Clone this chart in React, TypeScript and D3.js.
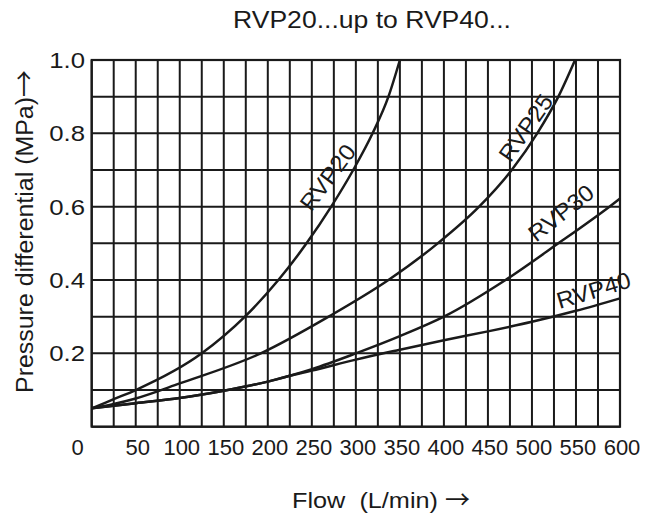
import * as d3 from 'd3'

// chart values
const flowTicks = [0, 50, 100, 150, 200, 250, 300, 350, 400, 450, 500, 550, 600]
const pressureTicks = [0.2, 0.4, 0.6, 0.8, 1.0]
const flowGrid = d3.range(0, 601, 25)
const pressureGrid = d3.range(0, 1.01, 0.1)

const rvp20Flow = [0, 25, 50, 125, 174, 212, 244, 272, 297, 319, 337, 350]
const rvp20Pressure = [0.05, 0.075, 0.1, 0.2, 0.3, 0.4, 0.5, 0.6, 0.7, 0.8, 0.9, 1.0]

const rvp25Flow = [0, 25, 50, 100, 192, 269, 337, 393, 440, 477, 506, 530, 549]
const rvp25Pressure = [0.05, 0.062, 0.077, 0.118, 0.2, 0.3, 0.4, 0.5, 0.6, 0.7, 0.8, 0.9, 1.0]

const rvp30Flow = [0, 50, 100, 150, 200, 225, 250, 300, 350, 400, 470, 530, 588, 600]
const rvp30Pressure = [0.05, 0.064, 0.078, 0.098, 0.123, 0.139, 0.157, 0.2, 0.247, 0.3, 0.4, 0.5, 0.6, 0.622]

const rvp40Flow = [0, 50, 100, 150, 200, 225, 250, 300, 350, 400, 450, 500, 550, 600]
const rvp40Pressure = [0.05, 0.064, 0.078, 0.098, 0.123, 0.139, 0.153, 0.183, 0.21, 0.236, 0.26, 0.286, 0.316, 0.35]

const seriesNames = ['RVP20', 'RVP25', 'RVP30', 'RVP40']
// label anchor (flow, pressure) and rotation for each curve name
const labelFlow = [268, 493, 533, 570]
const labelPressure = [0.68, 0.815, 0.583, 0.372]
const labelAngle = [-53, -55, -38, -17]

const width = 653
const height = 520
const margin = { top: 60, right: 33, bottom: 93.3, left: 91.7 }
const font = '"Liberation Sans", Arial, sans-serif'
const arrowFont = '"Noto Sans CJK SC", "DejaVu Sans", sans-serif'
const ink = '#1a1a1a'

export default function App() {
  const x = d3.scaleLinear().domain([0, 600]).range([margin.left, width - margin.right])
  const y = d3.scaleLinear().domain([0, 1]).range([height - margin.bottom, margin.top])

  const line = d3.line<[number, number]>()
    .x(d => x(d[0]))
    .y(d => y(d[1]))
    .curve(d3.curveMonotoneX)

  const series = [
    d3.zip(rvp20Flow, rvp20Pressure),
    d3.zip(rvp25Flow, rvp25Pressure),
    d3.zip(rvp30Flow, rvp30Pressure),
    d3.zip(rvp40Flow, rvp40Pressure),
  ] as [number, number][][]

  const [x0, x1] = x.range()
  const [y0, y1] = y.range()

  return (
    <svg width={width} height={height} style={{ position: 'absolute', left: 0, top: 0, background: '#fff' }}
      fontFamily={font}>
      <text x={372} y={28} fontSize={24} textAnchor="middle" textLength={278} lengthAdjust="spacingAndGlyphs" fill={ink}>
        RVP20...up to RVP40...
      </text>

      {/* grid */}
      <g stroke={ink} strokeWidth={2}>
        {flowGrid.map(f => (
          <line key={'v' + f} x1={x(f)} x2={x(f)} y1={y0} y2={y1} />
        ))}
        {pressureGrid.map(p => (
          <line key={'h' + p} x1={x0} x2={x1} y1={y(p)} y2={y(p)} />
        ))}
        <rect x={x0} y={y1} width={x1 - x0} height={y0 - y1} fill="none" strokeWidth={2.2} />
      </g>

      {/* curves */}
      <g fill="none" stroke={ink} strokeWidth={2.5}>
        {series.map((s, i) => (
          <path key={seriesNames[i]} d={line(s) ?? ''} />
        ))}
      </g>

      {/* curve names */}
      {seriesNames.map((n, i) => (
        <text key={n} fontSize={23} fill={ink} textAnchor="middle" dy="0.35em"
          transform={`translate(${x(labelFlow[i])},${y(labelPressure[i])}) rotate(${labelAngle[i]}) scale(1.05,1)`}>
          {n}
        </text>
      ))}

      {/* y ticks */}
      {pressureTicks.map(p => (
        <text key={'yt' + p} fontSize={23} fill={ink} textAnchor="end" dy="0.35em"
          transform={`translate(85,${y(p)}) scale(1.12,1)`}>
          {p.toFixed(1)}
        </text>
      ))}

      {/* x ticks */}
      {flowTicks.map(f => (
        <text key={'xt' + f} x={f === 0 ? x(f) - 14 : x(f) + 2} y={455} fontSize={22} fill={ink} textAnchor="middle">
          {f}
        </text>
      ))}

      {/* x axis title */}
      <text x={292} y={508} fontSize={21.5} fill={ink} textLength={146} lengthAdjust="spacingAndGlyphs"
        style={{ whiteSpace: 'pre' }}>
        {'Flow  (L/min)'}
      </text>
      <text x={445} y={509} fontSize={25} fill={ink} fontFamily={arrowFont}>→</text>

      {/* y axis title */}
      <text fontSize={23} fill={ink} textAnchor="middle" textLength={296} lengthAdjust="spacingAndGlyphs"
        transform={`translate(33,245) rotate(-90)`}>
        Pressure differential (MPa)
      </text>
      <text fontSize={27} fill={ink} fontFamily={arrowFont}
        transform={`translate(34,97) rotate(-90)`}>→</text>
    </svg>
  )
}
